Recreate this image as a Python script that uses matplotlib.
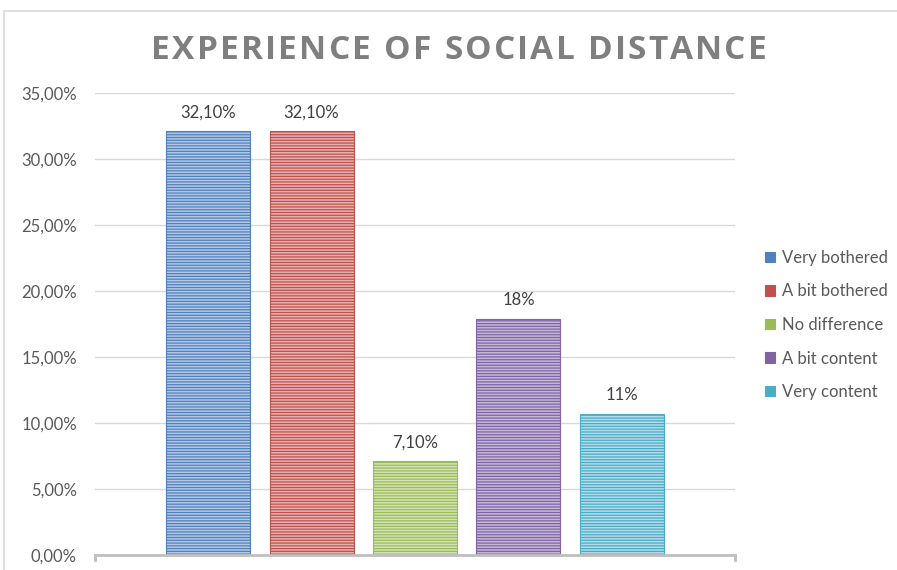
import matplotlib
matplotlib.use("Agg")
import matplotlib.pyplot as plt
from matplotlib.patches import Rectangle
from matplotlib.ticker import FuncFormatter

# Survey responses (percent of respondents)
categories = ["Very bothered", "A bit bothered", "No difference", "A bit content", "Very content"]
values = [32.1, 32.1, 7.1, 17.9, 10.7]
value_labels = ["32,10%", "32,10%", "7,10%", "18%", "11%"]
y_ticks = [0, 5, 10, 15, 20, 25, 30, 35]
title = "EXPERIENCE OF SOCIAL DISTANCE"

edge_colors = ["#4f81bd", "#c0504d", "#9bbb59", "#8064a2", "#4bacc6"]
face_colors = ["#b4c8e6", "#e8b2b0", "#d3e3b4", "#c6b8da", "#b2dcea"]

plt.rcParams["font.family"] = ["Lato", "DejaVu Sans"]
plt.rcParams["hatch.linewidth"] = 0.9

W, H = 897, 570
fig = plt.figure(figsize=(W / 100, H / 100), dpi=100)

# chart-area border
fig.patches.append(Rectangle((4 / W, -0.1), 1.2, (H - 11) / H + 0.1,
                             transform=fig.transFigure, fill=False,
                             edgecolor="#d9d9d9", linewidth=1.2))

ax = fig.add_axes([95 / W, 15 / H, 640 / W, 462 / H])

step = 1.0
width = 84 / 103.5
positions = [(i - 2) * step for i in range(len(categories))]
for x, v, fc, ec, lab, name in zip(positions, values, face_colors, edge_colors, value_labels, categories):
    ax.bar(x, v, width=width, color=fc, edgecolor=ec, hatch="------",
           linewidth=0.8, label=name, zorder=3)
    ax.text(x, v + 0.8, lab, ha="center", va="bottom", fontsize=12, color="#404040")

ax.set_xlim(-3.092, 3.092)
ax.set_ylim(0, 35)
ax.set_yticks(y_ticks)
ax.yaxis.set_major_formatter(FuncFormatter(lambda v, p: f"{v:.2f}".replace(".", ",") + "%"))
ax.tick_params(axis="y", length=0, labelsize=12, labelcolor="#595959", pad=13)
ax.set_xticks([])
ax.grid(axis="y", color="#d9d9d9", linewidth=1.0, zorder=0)
for s in ["top", "right", "left"]:
    ax.spines[s].set_visible(False)
ax.spines["bottom"].set_color("#bfbfbf")
ax.spines["bottom"].set_linewidth(2.0)
ax.spines["bottom"].set_zorder(4)
# small end ticks on the category axis
for xe in (-3.092, 3.092):
    ax.plot([xe, xe], [0, -0.35], color="#bfbfbf", linewidth=2.0, clip_on=False, zorder=4)

# letter-spaced title, laid out one character at a time
renderer = fig.canvas.get_renderer()
title_kw = dict(fontsize=24, color="#7f7f7f", fontweight="bold",
                family=["Open Sans", "DejaVu Sans"], va="center", ha="left")
tracking = 2.2
chars = []
widths = []
for ch in title:
    t = fig.text(0, 1 - 50.5 / H, ch if ch != " " else "\u00a0", **title_kw)
    chars.append(t)
    widths.append(t.get_window_extent(renderer).width)
total = sum(widths) + tracking * (len(title) - 1)
xpos = 459 - total / 2
for t, w in zip(chars, widths):
    t.set_x(xpos / W)
    xpos += w + tracking

leg = ax.legend(loc="center left", bbox_to_anchor=(750 / W, 1 - 325 / H),
                bbox_transform=fig.transFigure, frameon=False, fontsize=12,
                handlelength=0.6, handleheight=0.6, handletextpad=0.4, labelspacing=1.05,
                labelcolor="#595959")
for h, c in zip(leg.legend_handles, edge_colors):
    h.set_hatch(None)
    h.set_facecolor(c)
    h.set_edgecolor(c)

fig.savefig("out.png", dpi=100)
